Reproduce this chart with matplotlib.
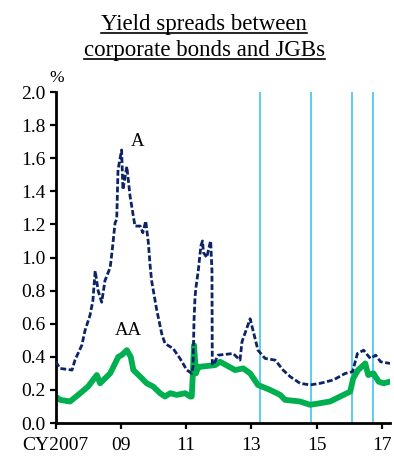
import matplotlib
matplotlib.use("Agg")
import matplotlib.pyplot as plt
from matplotlib.lines import Line2D

plt.rcParams['font.family'] = ['Liberation Serif', 'DejaVu Serif']

# yield spreads over JGBs, % (calendar years as decimals)
a_years = [2007.00, 2007.13, 2007.50, 2007.59, 2007.80, 2007.90, 2008.05, 2008.14,
           2008.21, 2008.30, 2008.41, 2008.51, 2008.67, 2008.73, 2008.82, 2008.87,
           2008.91, 2009.02, 2009.06, 2009.18, 2009.28, 2009.43, 2009.59, 2009.67,
           2009.76, 2009.84, 2009.89, 2009.94, 2010.10, 2010.25, 2010.35, 2010.60,
           2010.81, 2011.02, 2011.17, 2011.21, 2011.24, 2011.27, 2011.30, 2011.37,
           2011.45, 2011.50, 2011.53, 2011.63, 2011.71, 2011.75, 2011.79, 2011.80,
           2011.83, 2011.98, 2012.44, 2012.65, 2012.71, 2012.96, 2013.20, 2013.42,
           2013.73, 2013.97, 2014.19, 2014.49, 2014.80, 2015.11, 2015.51, 2015.88,
           2016.10, 2016.25, 2016.44, 2016.56, 2016.65, 2016.81, 2016.96, 2017.25]
a_spread = [0.37, 0.33, 0.32, 0.38, 0.47, 0.56, 0.65, 0.74,
            0.92, 0.80, 0.73, 0.86, 0.94, 1.04, 1.21, 1.23,
            1.53, 1.65, 1.41, 1.55, 1.37, 1.19, 1.19, 1.15,
            1.22, 1.09, 0.96, 0.86, 0.68, 0.54, 0.48, 0.45,
            0.39, 0.32, 0.30, 0.34, 0.62, 0.76, 0.82, 0.92,
            1.07, 1.10, 1.03, 1.00, 1.07, 1.10, 0.92, 0.36,
            0.35, 0.41, 0.42, 0.38, 0.49, 0.63, 0.44, 0.39,
            0.38, 0.32, 0.28, 0.24, 0.23, 0.24, 0.26, 0.30,
            0.31, 0.42, 0.44, 0.41, 0.39, 0.41, 0.37, 0.36]

aa_years = [2007.00, 2007.13, 2007.44, 2007.75, 2007.99, 2008.26, 2008.36, 2008.67,
            2008.92, 2009.02, 2009.18, 2009.30, 2009.38, 2009.59, 2009.79, 2009.99,
            2010.20, 2010.35, 2010.51, 2010.71, 2010.97, 2011.12, 2011.17, 2011.20,
            2011.24, 2011.30, 2011.37, 2011.43, 2011.89, 2012.04, 2012.50, 2012.75,
            2012.96, 2013.20, 2013.57, 2013.88, 2014.03, 2014.49, 2014.80, 2015.11,
            2015.41, 2015.72, 2016.03, 2016.12, 2016.27, 2016.49, 2016.58, 2016.74,
            2016.90, 2017.05, 2017.25]
aa_spread = [0.16, 0.14, 0.13, 0.18, 0.22, 0.29, 0.24, 0.30,
             0.40, 0.41, 0.44, 0.40, 0.32, 0.28, 0.24, 0.22,
             0.18, 0.16, 0.18, 0.17, 0.18, 0.16, 0.16, 0.28,
             0.47, 0.30, 0.34, 0.34, 0.35, 0.37, 0.32, 0.33,
             0.30, 0.23, 0.20, 0.17, 0.14, 0.13, 0.11, 0.12,
             0.13, 0.16, 0.19, 0.27, 0.32, 0.36, 0.29, 0.30,
             0.25, 0.24, 0.25]

# policy dates: QQE, QQE expansion, negative rate, yield curve control
policy_dates = [2013.26, 2014.83, 2016.08, 2016.72]

xtick_pos = [2007, 2009, 2011, 2013, 2015, 2017]
xtick_lab = ['CY2007', '09', '11', '13', '15', '17']
ytick_pos = [0.0, 0.2, 0.4, 0.6, 0.8, 1.0, 1.2, 1.4, 1.6, 1.8, 2.0]

fig = plt.figure(figsize=(3.94, 4.61), dpi=100)
ax = fig.add_axes([0.1414, 0.0824, 0.8486, 0.718])

for d in policy_dates:
    ax.plot([d, d], [0.0, 2.0], color='#4fc8f0', lw=1.3, zorder=1)

ax.plot(aa_years, aa_spread, color='#00b050', lw=4.2, zorder=2,
        solid_joinstyle='round')
ax.plot(a_years, a_spread, color='#0c2466', lw=2.0, zorder=3,
        ls=(0, (2.1, 0.9)))

ax.text(2009.51, 1.70, 'A', fontsize=13.5, ha='center', va='center')
ax.text(2009.22, 0.56, 'AA', fontsize=13.5, ha='center', va='center')

ax.set_xlim(2007.0, 2017.25)
ax.set_ylim(0.0, 2.0)
ax.set_xticks(xtick_pos)
ax.set_xticklabels(xtick_lab)
ax.set_yticks(ytick_pos)
ax.set_yticklabels(['%.1f' % v for v in ytick_pos])
ax.tick_params(axis='both', direction='out', length=4, width=1.6,
               labelsize=14, colors='black')
ax.tick_params(axis='x', pad=6)
ax.tick_params(axis='y', pad=3)
for side in ['top', 'right']:
    ax.spines[side].set_visible(False)
for side in ['left', 'bottom']:
    ax.spines[side].set_linewidth(2.0)

fig.text(0.145, 0.831, '%', fontsize=12.5, ha='center', va='center')

# underlined two-line title
titles = ['Yield spreads between', 'corporate bonds and JGBs']
ys = [0.936, 0.878]
fig.canvas.draw()
r = fig.canvas.get_renderer()
for t, y in zip(titles, ys):
    txt = fig.text(0.518, y, t, fontsize=16.5, ha='center', va='baseline')
    bb = txt.get_window_extent(renderer=r)
    x0, x1 = bb.x0 / fig.bbox.width, bb.x1 / fig.bbox.width
    uy = y - 3.0 / fig.bbox.height
    fig.add_artist(Line2D([x0, x1], [uy, uy], color='black', lw=1.2,
                          transform=fig.transFigure))

fig.savefig('out.png', dpi=100)
